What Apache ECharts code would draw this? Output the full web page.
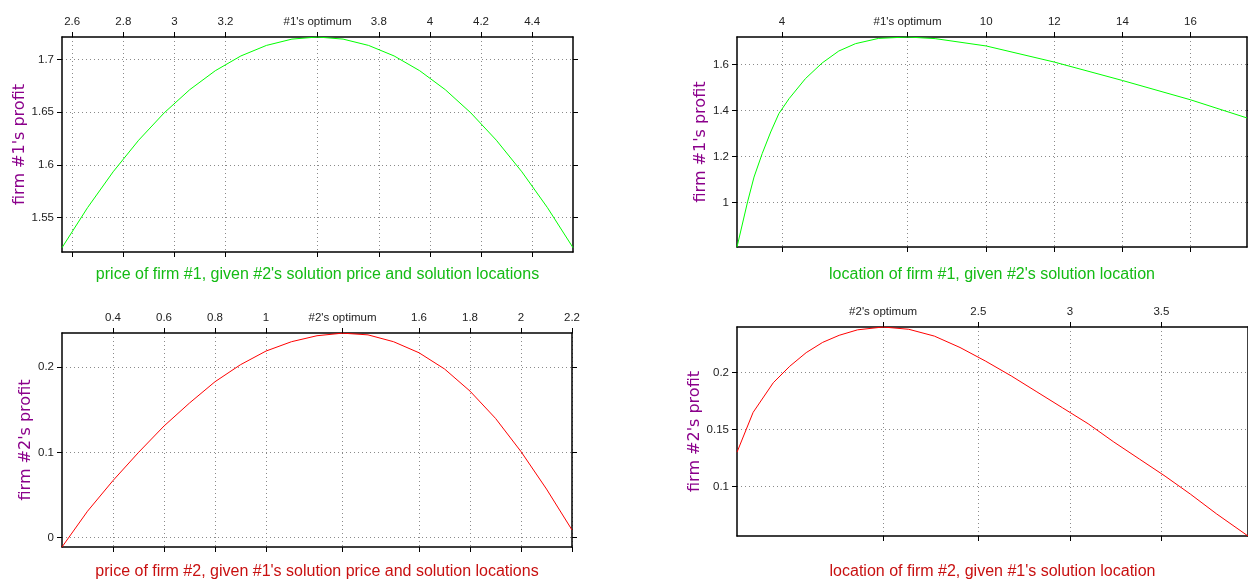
<!DOCTYPE html>
<html>
<head>
<meta charset="utf-8">
<script src="https://cdn.jsdelivr.net/npm/echarts@6/dist/echarts.min.js"></script>
<style>
html,body{margin:0;padding:0;background:#fff}
#chart{width:1248px;height:581px}
</style>
</head>
<body>
<div id="chart"></div>
<script>
// firm #1 profit against its own price
const price1 = [2.56, 2.66, 2.76, 2.86, 2.96, 3.06, 3.16, 3.26, 3.36, 3.46, 3.56, 3.66, 3.76, 3.86, 3.96, 4.06, 4.16, 4.26, 4.36, 4.46, 4.56];
const profit1ByPrice = [1.5215, 1.5595, 1.5935, 1.6235, 1.6495, 1.6715, 1.6895, 1.7035, 1.7135, 1.7195, 1.7215, 1.7195, 1.7135, 1.7035, 1.6895, 1.6715, 1.6495, 1.6235, 1.5935, 1.5595, 1.5215];
const price1Ticks = [2.6, 2.8, 3, 3.2, 3.56, 3.8, 4, 4.2, 4.4];
const price1Labels = ['2.6', '2.8', '3', '3.2', "#1's optimum", '3.8', '4', '4.2', '4.4'];
const profit1PriceTicks = [1.55, 1.6, 1.65, 1.7];

// firm #1 profit against its location
const location1 = [2.68, 2.99, 3.18, 3.42, 3.67, 3.91, 4.21, 4.69, 5.18, 5.67, 6.16, 6.84, 7.69, 8.50, 10.0, 12.0, 14.0, 16.0, 17.66];
const profit1ByLocation = [0.806, 1.002, 1.110, 1.212, 1.306, 1.386, 1.451, 1.538, 1.606, 1.658, 1.690, 1.713, 1.719, 1.712, 1.680, 1.610, 1.530, 1.446, 1.367];
const location1Ticks = [4, 7.69, 10, 12, 14, 16];
const location1Labels = ['4', "#1's optimum", '10', '12', '14', '16'];
const profit1LocationTicks = [1, 1.2, 1.4, 1.6];

// firm #2 profit against its own price
const price2 = [0.2, 0.3, 0.4, 0.5, 0.6, 0.7, 0.8, 0.9, 1.0, 1.1, 1.2, 1.3, 1.4, 1.5, 1.6, 1.7, 1.8, 1.9, 2.0, 2.1, 2.2];
const profit2ByPrice = [-0.011, 0.031, 0.067, 0.100, 0.131, 0.158, 0.183, 0.203, 0.219, 0.230, 0.237, 0.240, 0.238, 0.230, 0.217, 0.198, 0.172, 0.140, 0.101, 0.057, 0.009];
const price2Ticks = [0.4, 0.6, 0.8, 1, 1.3, 1.6, 1.8, 2, 2.2];
const price2Labels = ['0.4', '0.6', '0.8', '1', "#2's optimum", '1.6', '1.8', '2', '2.2'];
const profit2PriceTicks = [0, 0.1, 0.2];

// firm #2 profit against its location
const location2 = [1.182, 1.27, 1.38, 1.47, 1.56, 1.65, 1.74, 1.84, 1.98, 2.12, 2.26, 2.40, 2.54, 2.68, 2.82, 2.96, 3.10, 3.24, 3.38, 3.52, 3.66, 3.80, 3.973];
const profit2ByLocation = [0.130, 0.165, 0.191, 0.2055, 0.2175, 0.2265, 0.2327, 0.2375, 0.240, 0.238, 0.232, 0.222, 0.210, 0.197, 0.183, 0.169, 0.155, 0.139, 0.124, 0.109, 0.093, 0.076, 0.0564];
const location2Ticks = [1.98, 2.5, 3, 3.5];
const location2Labels = ["#2's optimum", '2.5', '3', '3.5'];
const profit2LocationTicks = [0.1, 0.15, 0.2];

const FONT = "'Liberation Sans', Arial, Helvetica, sans-serif";
const NAME_FONT = "'DejaVu Sans', 'Liberation Sans', sans-serif";
const GREEN_TXT = '#14bb14', RED_TXT = '#c81010', PURPLE = '#8b008b';

const grids = [], xAxes = [], yAxes = [], series = [];

function addPanel(box, xs, ys, xMin, xMax, yMin, yMax, xTicks, xLabels, yTicks, lineColor, titleColor, xName, yName, xGap, yGap) {
  const g = grids.length;
  grids.push(Object.assign({ containLabel: false }, box));
  const tick = { show: true, inside: false, length: 5, lineStyle: { color: '#000', width: 1 } };
  const axisLine = { show: true, onZero: false, lineStyle: { color: '#000', width: 1.5 } };
  const grid = { show: true, lineStyle: { color: '#8a8a8a', width: 1, type: [1, 3] } };
  const labelStyle = { color: '#222', fontSize: 11.5, fontFamily: FONT };
  const fmtX = v => {
    let k = 0;
    xTicks.forEach((t, i) => { if (Math.abs(t - v) < Math.abs(xTicks[k] - v)) k = i; });
    return xLabels[k];
  };
  // top axis carries the labels and gridlines
  xAxes.push({
    gridIndex: g, type: 'value', position: 'top', min: xMin, max: xMax,
    axisLine, axisTick: Object.assign({ customValues: xTicks }, tick),
    axisLabel: Object.assign({ customValues: xTicks, formatter: fmtX, margin: 9 }, labelStyle),
    splitLine: grid
  });
  // bottom axis: ticks and the title only
  xAxes.push({
    gridIndex: g, type: 'value', position: 'bottom', min: xMin, max: xMax,
    axisLine, axisTick: Object.assign({ customValues: xTicks }, tick),
    axisLabel: { show: false }, splitLine: { show: false },
    name: xName, nameLocation: 'middle', nameGap: xGap,
    nameTextStyle: { color: titleColor, fontSize: 16, fontFamily: FONT }
  });
  yAxes.push({
    gridIndex: g, type: 'value', position: 'left', min: yMin, max: yMax,
    axisLine, axisTick: Object.assign({ customValues: yTicks }, tick),
    axisLabel: Object.assign({ customValues: yTicks, margin: 8 }, labelStyle),
    splitLine: grid,
    name: yName, nameLocation: 'middle', nameGap: yGap,
    nameTextStyle: { color: PURPLE, fontSize: 16, fontFamily: NAME_FONT }
  });
  yAxes.push({
    gridIndex: g, type: 'value', position: 'right', min: yMin, max: yMax,
    axisLine, axisTick: Object.assign({ customValues: yTicks }, tick),
    axisLabel: { show: false }, splitLine: { show: false }
  });
  series.push({
    type: 'line', xAxisIndex: 2 * g, yAxisIndex: 2 * g,
    data: xs.map((x, i) => [x, ys[i]]),
    showSymbol: false, symbol: 'none', silent: true, animation: false,
    lineStyle: { color: lineColor, width: 1 }
  });
}

addPanel({ left: 62, top: 37, width: 511, height: 215 }, price1, profit1ByPrice, 2.56, 4.56, 1.5174, 1.7215,
  price1Ticks, price1Labels, profit1PriceTicks, '#00ff00', GREEN_TXT,
  "price of firm #1, given #2's solution price and solution locations", "firm #1's profit", 15, 31);
addPanel({ left: 737, top: 37, width: 510, height: 210 }, location1, profit1ByLocation, 2.68, 17.66, 0.806, 1.719,
  location1Ticks, location1Labels, profit1LocationTicks, '#00ff00', GREEN_TXT,
  "location of firm #1, given #2's solution location", "firm #1's profit", 20, 27);
addPanel({ left: 62, top: 333, width: 510, height: 215 }, price2, profit2ByPrice, 0.2, 2.2, -0.011, 0.2402,
  price2Ticks, price2Labels, profit2PriceTicks, '#ff0000', RED_TXT,
  "price of firm #2, given #1's solution price and solution locations", "firm #2's profit", 17, 27);
addPanel({ left: 737, top: 327, width: 511, height: 211 }, location2, profit2ByLocation, 1.182, 3.973, 0.0564, 0.240,
  location2Ticks, location2Labels, profit2LocationTicks, '#ff0000', RED_TXT,
  "location of firm #2, given #1's solution location", "firm #2's profit", 28, 33);

const myChart = echarts.init(document.getElementById('chart'), null, { renderer: 'canvas' });
myChart.setOption({
  animation: false,
  backgroundColor: '#fff',
  grid: grids,
  xAxis: xAxes,
  yAxis: yAxes,
  series: series
});
</script>
</body>
</html>
